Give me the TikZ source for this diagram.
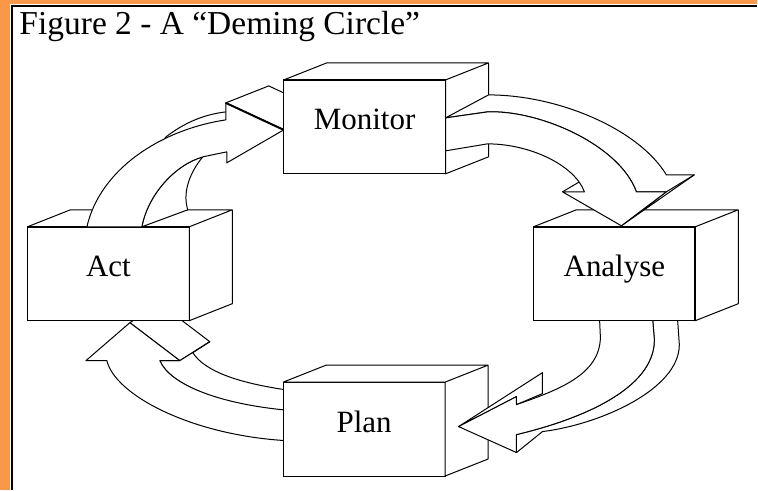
\documentclass[tikz,border=0pt]{standalone}
\usepackage{fontspec}
\setmainfont{Liberation Serif}
\definecolor{frameorange}{RGB}{248,152,72}

\begin{document}
\begin{tikzpicture}[x=1pt,y=-1pt,line width=1pt,
	box/.style={draw,fill=white,minimum width=162pt,minimum height=94pt,inner sep=0pt,outer sep=0pt,text height=21pt,text depth=15pt,font=\fontsize{31}{36}\selectfont},
	side/.style={draw,fill=white,line join=round},
	face/.style={draw,fill=white,line join=round},
	heavy/.style={line width=2pt}]

	% page and frame
	\fill[white] (0,0) rectangle (758,490);
	\fill[frameorange] (0,0) rectangle (758,4);
	\fill[frameorange] (0,0) rectangle (10,490);
	\draw[line width=1.5pt] (12,490) -- (12,6) -- (758,6);
	\node[anchor=base west,inner sep=0pt,font=\fontsize{33.5}{38}\selectfont] (title) at (19,35) {Figure 2 - A “Deming Circle”};

	% Plan -> Act
	\draw[face] (130,323) -- (160,304) -- (210,342) -- (180,361) -- cycle;
	\draw[face] (180,361) -- (210,342) -- (193,353) .. controls (205,372) and (240,384) .. (292,391) -- (292,411) -- (285,411) .. controls (220,405) and (170,385) .. (160,361) -- cycle;
	\draw[face] (107,361) -- (86,361) -- (130,323) -- (180,361) -- (160,361) .. controls (170,385) and (220,405) .. (292,411) -- (292,441) -- (285,441) .. controls (190,435) and (115,395) .. (107,361) -- cycle;

	\node[box] (plan) at (364.5,429.5) {Plan};
	\draw[side] (plan.north west) -- ++(43,-17) -- ++(162,0) -- ++(0,94) -- (plan.south east) -- (plan.north east) -- cycle (plan.north east) -- ++(43,-17);

	% Analyse -> Plan
	\draw[face] (653,316) -- (678,316) -- (680,345) .. controls (680,390) and (600,425) .. (543,432) -- (517,453) -- (517,435) .. controls (580,420) and (655,390) .. (655,340) -- cycle;
	\draw[face] (459,427) -- (543,373) -- (543,394) -- (517,405) -- (517,397) -- cycle;
	\draw[face] (600,316) -- (601,338) .. controls (600,375) and (560,390) .. (517,405) -- (517,397) -- (459,427) -- (517,453) -- (517,435) .. controls (580,420) and (655,390) .. (655,340) -- (653,316) -- cycle;

	\node[box] (act) at (108.5,274) {Act};
	\draw[side] (act.north west) -- ++(43,-17) -- ++(162,0) -- ++(0,94) -- (act.south east) -- (act.north east) -- cycle (act.north east) -- ++(43,-17);
	\draw[heavy] (act.north west) -- (act.north east);

	% Act -> Monitor
	\draw[face] (226,103) -- (269,86) -- (327,113) -- (284,130) -- cycle;
	\draw[face] (142,227) .. controls (148,195) and (175,165) .. (203,157) .. controls (188,175) and (183,195) .. (188,210) -- cycle;
	\draw (226,112) .. controls (200,115) and (180,126) .. (165,138);
	\draw[face] (87,227) .. controls (100,170) and (160,130) .. (226,120) -- (226,103) -- (284,130) -- (227,163) -- (227,152) -- (203,157) .. controls (175,165) and (148,195) .. (142,227) -- cycle;
	\draw[heavy] (226,103) -- (284,130);

	\node[box] (mon) at (365,127) {Monitor};
	\draw[side] (mon.north west) -- ++(43,-17) -- ++(162,0) -- ++(0,94) -- (mon.south east) -- (mon.north east) -- cycle (mon.north east) -- ++(43,-17);
	\draw[heavy] (mon.north west) -- (mon.north east);

	\node[box] (ana) at (615,274) {Analyse};
	\draw[side] (ana.north west) -- ++(43,-17) -- ++(162,0) -- ++(0,94) -- (ana.south east) -- (ana.north east) -- cycle (ana.north east) -- ++(43,-17);
	\draw[heavy] (ana.north west) -- (ana.north east) -- (ana.south east);

	% Monitor -> Analyse
	\draw[face] (446,118) -- (489,95) .. controls (560,95) and (640,130) .. (667,175) -- (695,175) -- (622,226) -- (667,192) -- (637,192) .. controls (620,145) and (540,110) .. (488,112) -- cycle;
	\draw (667,192) -- (695,175);
	\draw (563,192) -- (592,175);
	\draw[face] (446,118) -- (488,112) .. controls (540,110) and (620,145) .. (637,192) -- (667,192) -- (622,226) -- (563,192) -- (585,192) .. controls (575,165) and (530,144) .. (488,144) -- (446,151) -- cycle;
\end{tikzpicture}
\end{document}
